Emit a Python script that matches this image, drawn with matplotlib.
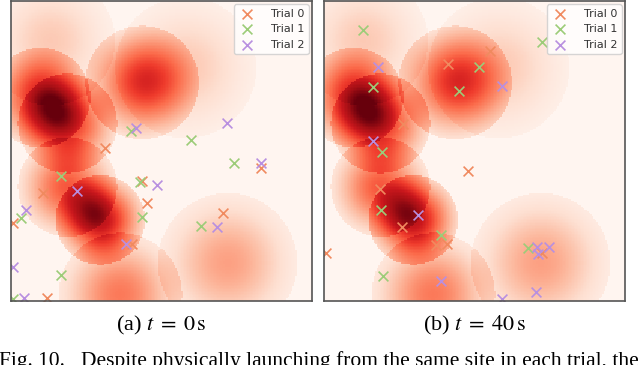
import matplotlib
matplotlib.use('Agg')
import matplotlib.pyplot as plt
import numpy as np

# arena units: x 0..301, y 0..300 (y up)
disk_x = [29, 56, 56, 89, 109, 217, 131, 175, 39]
disk_y = [204, 178, 114, 81, 6, 38, 219, 234, 261]
disk_r = [50, 50, 50, 45, 62, 70, 57, 71, 65]
disk_w = [0.65, 0.65, 0.55, 0.8, 0.45, 0.33, 0.6, 0.2, 0.2]

# t = 0 s
a_t0_x = [94, 32, 131, 136, 212, 250, 2, 121, 36]
a_t0_y = [153, 108, 120, 98, 88, 133, 78, 57, 3]
a_t1_x = [120, 180, 223, 50, 129, 131, 10, 190, 50, 2]
a_t1_y = [170, 161, 138, 125, 119, 84, 83, 75, 26, 2]
a_t2_x = [125, 216, 250, 146, 66, 15, 206, 115, 2, 13]
a_t2_y = [173, 178, 138, 116, 110, 91, 74, 57, 34, 3]

# t = 40 s
b_t0_x = [166, 124, 79, 144, 56, 78, 112, 123, 2, 218]
b_t0_y = [250, 237, 177, 130, 112, 74, 56, 57, 48, 48]
b_t1_x = [39, 218, 155, 49, 135, 58, 57, 117, 204, 59]
b_t1_y = [271, 259, 234, 214, 210, 149, 91, 66, 53, 25]
b_t2_x = [54, 178, 49, 94, 213, 225, 214, 117, 212, 178]
b_t2_y = [234, 215, 160, 86, 54, 54, 47, 20, 9, 2]

trial_names = ['Trial 0', 'Trial 1', 'Trial 2']
trial_colors = ['#f08a5f', '#9ccc78', '#b88fe0']

W, H = 301, 300
gx, gy = np.meshgrid(np.linspace(0, W, 200), np.linspace(0, H, 200))
field = np.zeros_like(gx)
for cx, cy, r, w in zip(disk_x, disk_y, disk_r, disk_w):
    d2 = (gx - cx) ** 2 + (gy - cy) ** 2
    g = w * np.exp(-d2 / (2 * (0.55 * r) ** 2))
    field += np.where(d2 < r ** 2, g, 0)

plt.rcParams['mathtext.fontset'] = 'stix'
fig = plt.figure(figsize=(6.4, 3.65), dpi=100)
ax_a = fig.add_axes([11 / 640, 64 / 365, 301 / 640, 300 / 365])
ax_b = fig.add_axes([324 / 640, 64 / 365, 301 / 640, 300 / 365])

panels = [
    (ax_a, [(a_t0_x, a_t0_y), (a_t1_x, a_t1_y), (a_t2_x, a_t2_y)]),
    (ax_b, [(b_t0_x, b_t0_y), (b_t1_x, b_t1_y), (b_t2_x, b_t2_y)]),
]
for ax, trials in panels:
    ax.imshow(field, cmap='Reds', vmin=0, vmax=1, origin='lower',
              extent=(0, W, 0, H), interpolation='nearest', aspect='auto')
    for (xs, ys), name, c in zip(trials, trial_names, trial_colors):
        ax.scatter(xs, ys, marker='x', s=50, linewidths=1.2, color=c, label=name)
    ax.set_xlim(0, W)
    ax.set_ylim(0, H)
    ax.set_xticks([])
    ax.set_yticks([])
    for sp in ax.spines.values():
        sp.set_color('#555555')
        sp.set_linewidth(1.2)
    leg = ax.legend(loc='upper right', fontsize=8, scatterpoints=1,
                    borderaxespad=0.3, handlelength=1.6, handletextpad=1.3,
                    labelspacing=0.5)
    leg.get_frame().set_edgecolor('#cccccc')
    for t in leg.get_texts():
        t.set_color('#333333')

cap = dict(ha='center', va='center', fontsize=16, family='Liberation Serif')
fig.text(161.5 / 640, 1 - 325 / 365, r'(a) $t\;=\;0\,\mathrm{s}$', **cap)
fig.text(474.5 / 640, 1 - 325 / 365, r'(b) $t\;=\;40\,\mathrm{s}$', **cap)
fig.text(-1 / 640, 1 - 366 / 365,
         'Fig. 10.   Despite physically launching from the same site in each trial, the',
         ha='left', va='baseline', fontsize=15.5, family='Liberation Serif')

fig.savefig('out.png', dpi=100)
